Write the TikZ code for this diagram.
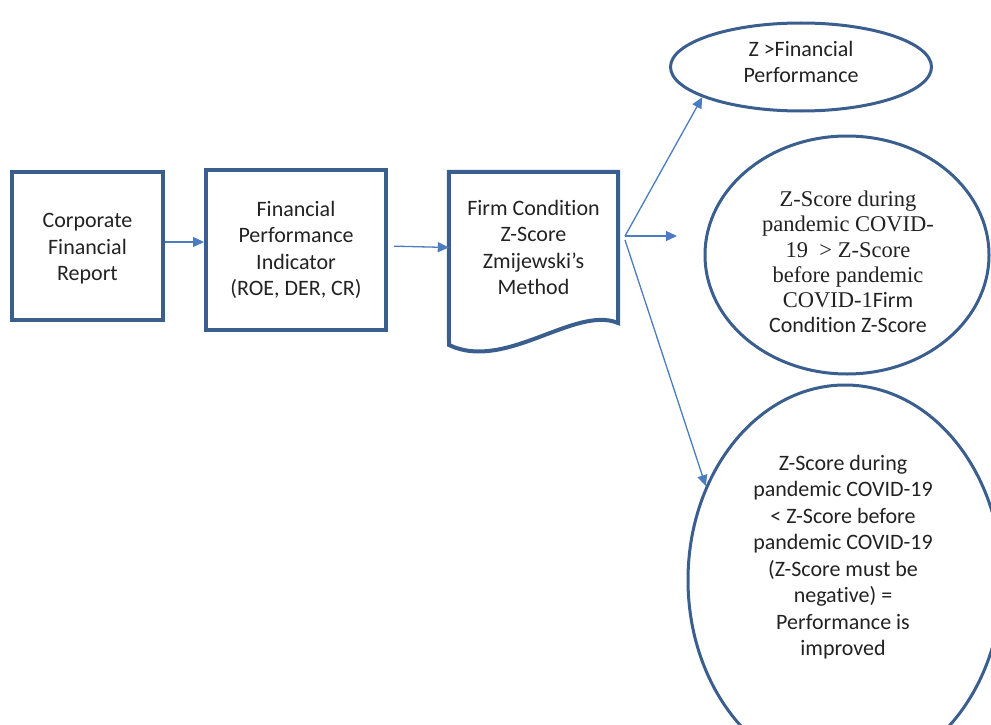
\documentclass[tikz,border=0pt]{standalone}
\usepackage{fontspec}
\setmainfont[Ligatures=NoCommon]{Carlito}
\newfontfamily\serifz{Liberation Serif}
\usetikzlibrary{arrows.meta,shapes.geometric}
\definecolor{bord}{HTML}{3A5E8E}
\definecolor{arr}{HTML}{4A7DC0}
\definecolor{txt}{HTML}{222222}
\newcommand{\sz}{\serifz\fontsize{22.5}{25.2}\selectfont}
\begin{document}
\begin{tikzpicture}[x=1pt,y=-1pt,
  every node/.style={text=txt,font=\fontsize{22}{26.5}\selectfont,align=center,inner sep=0pt},
  box/.style={draw=bord,line width=4pt,rectangle},
  oval/.style={draw=bord,line width=3pt,ellipse},
  conn/.style={draw=arr,line width=1.3pt,-{Triangle[length=11pt,width=10pt]}}]
\useasboundingbox (0,0) rectangle (991,725);
% boxes
\node[box,minimum width=151pt,minimum height=148pt] (cfr) at (87.5,246) {};
\node (cfrtxt) at (87.5,249) {Corporate\\Financial\\Report};
\node[box,minimum width=180pt,minimum height=160pt] (fpi) at (296,250) {Financial\\Performance\\Indicator\\(ROE, DER, CR)};
% document shape
\node[minimum width=169pt,minimum height=151pt] (doc) at (533.5,247.5) {Firm Condition\\Z-Score\\Zmijewski's\\Method};
\draw[draw=bord,line width=4pt,line join=miter]
  (doc.north west) -- (doc.north east) -- (618,323)
  .. controls (575,305) and (505,372) .. (449,345) -- cycle;
% ellipses
\node[oval,minimum width=261pt,minimum height=88pt] (zfp) at (801,67) {};
\node (zfptxt) at (801,62) {Z >Financial\\Performance};
\node[oval,minimum width=284pt,minimum height=238pt] (mid) at (847,255) {};
\node[font=\fontsize{22}{25.2}\selectfont] (midtxt) at (848,262)
  {\sz Z-Score during\\
   \sz pandemic COVID-\\
   \sz 19\ \ > Z-Score\\
   \sz before pandemic\\
   {\sz COVID-1}Firm\\
   Condition Z-Score};
\node[oval,minimum width=314pt,minimum height=390pt] (bot) at (845,580) {};
\node (bottxt) at (843,557) {Z-Score during\\pandemic COVID-19\\< Z-Score before\\pandemic COVID-19\\(Z-Score must be\\negative) =\\Performance is\\improved};
% connectors
\coordinate (o) at (625,236);
\coordinate (midin) at (677,236);
\draw[conn] ([yshift=4pt]cfr.east) -- ([yshift=4pt]fpi.west |- cfr.east);
\draw[conn,shorten <=6pt] ([yshift=4pt]fpi.east) -- (doc.west);
\draw[conn] (o) -- (zfp.197);
\draw[conn] (o) -- (midin);
\draw[conn] ([yshift=-4pt]o) -- (bot.146);
\end{tikzpicture}
\end{document}
